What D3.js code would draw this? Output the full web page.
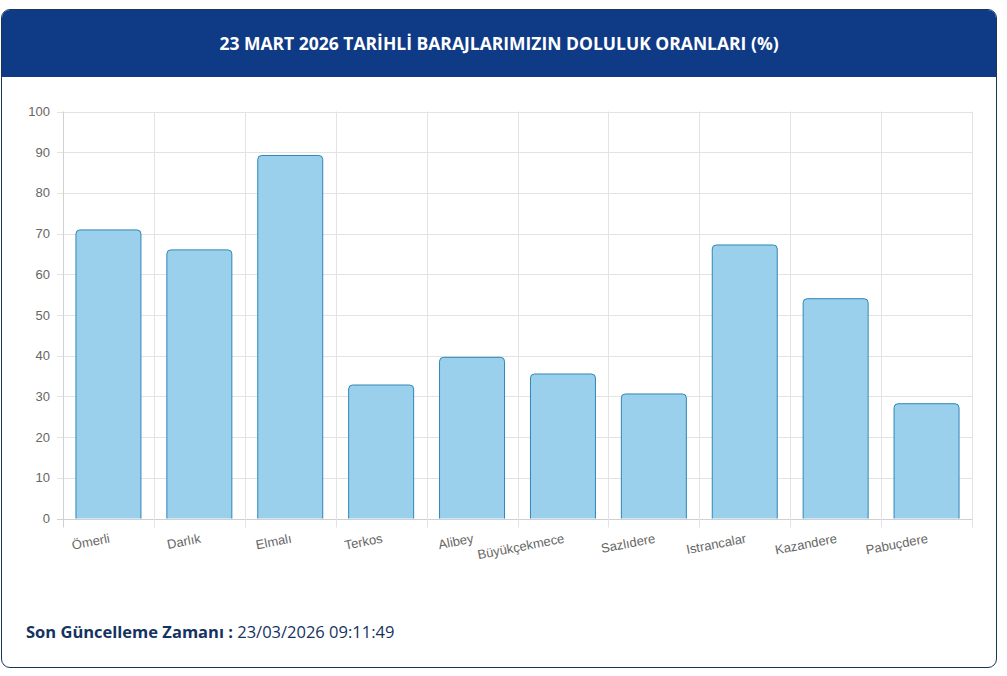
<!DOCTYPE html>
<html>
<head>
<meta charset="utf-8">
<script src="https://cdn.jsdelivr.net/npm/d3@7"></script>
<style>
  body { margin: 0; background: #fff; font-family: "Liberation Sans", Arial, sans-serif; }
  #card {
    position: absolute; left: 1px; top: 9px; width: 994px; height: 657px;
    border: 1px solid #1c3553; border-radius: 9px; overflow: hidden; background: #fff;
  }
  #head {
    height: 67px; background: #0f3a86; color: #fff; text-align: center;
    font-family: "Open Sans", sans-serif; font-weight: 700; font-size: 17.5px;
    line-height: 67px; letter-spacing: 0px;
  }
  #foot {
    position: absolute; left: 24px; top: 610px; font-family: "Open Sans", sans-serif;
    font-size: 16.5px; color: #14335f; letter-spacing: 0px;
  }
  #foot b { font-weight: 700; }
  #chart { position: absolute; left: 0; top: 0; }
</style>
</head>
<body>
<div id="card">
  <div id="head">23 MART 2026 TARİHLİ BARAJLARIMIZIN DOLULUK ORANLARI (%)</div>
  <div id="foot"><b>Son Güncelleme Zamanı :</b> 23/03/2026 09:11:49</div>
</div>
<svg id="chart" width="1007" height="676"></svg>
<script>
const DAMS = ['Ömerli', 'Darlık', 'Elmalı', 'Terkos', 'Alibey', 'Büyükçekmece', 'Sazlıdere', 'Istrancalar', 'Kazandere', 'Pabuçdere'];
const RATES = [70.9, 66.0, 89.2, 32.8, 39.6, 35.5, 30.6, 67.2, 54.0, 28.2];
const Y_TICKS = [0, 10, 20, 30, 40, 50, 60, 70, 80, 90, 100];

const LEFT = 63, RIGHT = 972, TOP = 111.5, BOTTOM = 518.5;

const svg = d3.select('#chart');

const x = d3.scaleBand().domain(DAMS).range([LEFT, RIGHT]).paddingInner(0).paddingOuter(0);
const y = d3.scaleLinear().domain([0, 100]).range([BOTTOM, TOP]);

// grid
const grid = svg.append('g').attr('stroke', '#e3e3e3').attr('stroke-width', 1);
grid.selectAll('.h').data(Y_TICKS).enter().append('line')
    .attr('x1', LEFT - 6).attr('x2', RIGHT)
    .attr('y1', d => Math.round(y(d)) + 0.5).attr('y2', d => Math.round(y(d)) + 0.5)
    .attr('stroke', d => d === 0 ? '#d0d0d0' : '#e3e3e3');
const xEdges = DAMS.map(d => x(d)).concat([RIGHT]);
grid.selectAll('.v').data(xEdges).enter().append('line')
    .attr('x1', d => Math.round(d) + 0.5).attr('x2', d => Math.round(d) + 0.5)
    .attr('y1', TOP).attr('y2', BOTTOM + 9)
    .attr('stroke', (d, i) => i === 0 ? '#d0d0d0' : '#e3e3e3');

// y labels
svg.append('g').selectAll('text').data(Y_TICKS).enter().append('text')
    .attr('x', LEFT - 13).attr('y', d => y(d) + 4.5)
    .attr('text-anchor', 'end').attr('font-size', 13).attr('fill', '#666')
    .text(d => d);

// bars with rounded tops
const bw = x.bandwidth() * 0.715;
const r = 4;
function barPath(d) {
    const x0 = x(d.name) + (x.bandwidth() - bw) / 2, x1 = x0 + bw;
    const yt = y(d.value), yb = y(0);
    return `M${x0},${yb}V${yt + r}Q${x0},${yt} ${x0 + r},${yt}H${x1 - r}Q${x1},${yt} ${x1},${yt + r}V${yb}`;
}
const rows = DAMS.map((n, i) => ({ name: n, value: RATES[i] }));
svg.append('g').selectAll('path').data(rows).enter().append('path')
    .attr('d', barPath)
    .attr('fill', '#9ad0ec')
    .attr('stroke', '#2f86b8')
    .attr('stroke-width', 1);

// x labels, rotated
svg.append('g').selectAll('text').data(DAMS).enter().append('text')
    .attr('transform', d => `translate(${x(d) + x.bandwidth() / 2 + 2},${BOTTOM + 24}) rotate(-11)`)
    .attr('text-anchor', 'end').attr('font-size', 13).attr('fill', '#666')
    .text(d => d);
</script>
</body>
</html>
